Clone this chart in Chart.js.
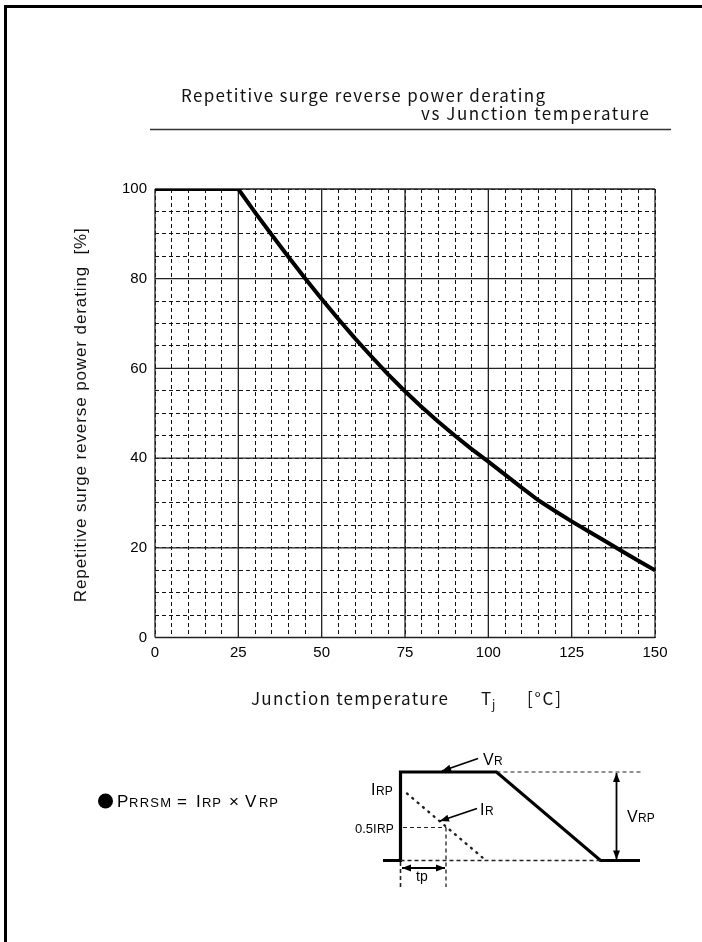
<!DOCTYPE html>
<html>
<head>
<meta charset="utf-8">
<title>Repetitive surge reverse power derating</title>
<script src="https://cdn.jsdelivr.net/npm/chart.js@4.4.1/dist/chart.umd.min.js"></script>
<style>
    html, body { margin: 0; padding: 0; background: #fff; }
    #wrap { width: 702px; height: 942px; }
</style>
</head>
<body>
<div id="wrap"><canvas id="deratingChart" width="702" height="942"></canvas></div>
<script>
// ==========================
// DATA
// ==========================
const tempC = [0, 25, 30, 35, 40, 45, 50, 55, 60, 65, 70, 75, 80, 85, 90, 95, 100,
               105, 110, 115, 120, 125, 130, 135, 140, 145, 150];
const deratingPct = [100, 100, 94.8, 89.8, 84.9, 80.1, 75.5, 71.0, 66.7, 62.6, 58.6, 54.9, 51.4, 48.1, 45.0, 42.0, 39.2,
                     36.3, 33.4, 30.6, 28.2, 25.9, 23.7, 21.5, 19.3, 17.1, 15.0];
const xTickValues = [0, 25, 50, 75, 100, 125, 150];
const yTickValues = [0, 20, 40, 60, 80, 100];

const SANS = "'Liberation Sans', Arial, sans-serif";
const GOTHIC = "'Noto Sans CJK JP', 'Noto Sans', sans-serif";

// ==========================
// TEXT HELPERS
// ==========================
// draw left-aligned text stretched with letter spacing to a given width
function spacedText(ctx, str, x, y, width) {
    ctx.letterSpacing = "0px";
    const raw = ctx.measureText(str).width;
    if (width && str.length > 1) {
        ctx.letterSpacing = ((width - raw) / (str.length - 1)) + "px";
    }
    ctx.fillText(str, x, y);
    ctx.letterSpacing = "0px";
}

function label(ctx, str, x, y, size, width, family) {
    ctx.font = size + "px " + (family || SANS);
    spacedText(ctx, str, x, y, width);
}

function arrowHead(ctx, x1, y1, x2, y2, len, half) {
    const a = Math.atan2(y2 - y1, x2 - x1);
    ctx.beginPath();
    ctx.moveTo(x2, y2);
    ctx.lineTo(x2 - len * Math.cos(a) + half * Math.sin(a), y2 - len * Math.sin(a) - half * Math.cos(a));
    ctx.lineTo(x2 - len * Math.cos(a) - half * Math.sin(a), y2 - len * Math.sin(a) + half * Math.cos(a));
    ctx.closePath();
    ctx.fill();
}

function arrow(ctx, x1, y1, x2, y2, both) {
    ctx.setLineDash([]);
    ctx.lineWidth = 1.8;
    ctx.beginPath();
    ctx.moveTo(x1, y1);
    ctx.lineTo(x2, y2);
    ctx.stroke();
    arrowHead(ctx, x1, y1, x2, y2, 9, 3.5);
    if (both) arrowHead(ctx, x2, y2, x1, y1, 9, 3.5);
}

function seg(ctx, pts, width, dash) {
    ctx.lineWidth = width;
    ctx.setLineDash(dash || []);
    ctx.beginPath();
    ctx.moveTo(pts[0][0], pts[0][1]);
    for (let i = 1; i < pts.length; i++) ctx.lineTo(pts[i][0], pts[i][1]);
    ctx.stroke();
}

// ==========================
// PLUGINS
// ==========================
// solid lines at the labelled ticks, drawn over the dashed minor grid
const majorGrid = {
    id: "majorGrid",
    beforeDatasetsDraw(chart) {
        const { ctx, chartArea: a, scales: { x, y } } = chart;
        ctx.save();
        ctx.strokeStyle = "#222";
        ctx.lineWidth = 1.3;
        ctx.beginPath();
        xTickValues.forEach(v => {
            const px = x.getPixelForValue(v);
            ctx.moveTo(px, a.top);
            ctx.lineTo(px, a.bottom);
        });
        yTickValues.forEach(v => {
            const py = y.getPixelForValue(v);
            ctx.moveTo(a.left, py);
            ctx.lineTo(a.right, py);
        });
        ctx.stroke();
        ctx.restore();
    }
};

// sheet frame, titles, formula and the waveform sketch
const sheetDecor = {
    id: "sheetDecor",
    afterDraw(chart) {
        const ctx = chart.ctx;
        const y = chart.scales.y;
        ctx.save();
        ctx.textBaseline = "alphabetic";
        ctx.textAlign = "left";

        // page frame (top + left)
        ctx.strokeStyle = "#000";
        ctx.lineWidth = 3;
        ctx.beginPath();
        ctx.moveTo(5.5, 942);
        ctx.lineTo(5.5, 6.5);
        ctx.lineTo(702, 6.5);
        ctx.stroke();

        // title
        ctx.fillStyle = "#111";
        label(ctx, "Repetitive surge reverse power derating", 181, 102, 17, 364, GOTHIC);
        label(ctx, "vs Junction temperature", 421, 120, 17, 228, GOTHIC);
        ctx.strokeStyle = "#333";
        ctx.lineWidth = 1.5;
        ctx.beginPath();
        ctx.moveTo(150, 129.5);
        ctx.lineTo(671, 129.5);
        ctx.stroke();

        // y axis title, rotated, centred on the plot height
        ctx.save();
        ctx.translate(86, (y.top + y.bottom) / 2 + 2);
        ctx.rotate(-Math.PI / 2);
        ctx.fillStyle = "#111";
        label(ctx, "Repetitive surge reverse power derating  [%]", -187, 0, 17, 374);
        ctx.restore();

        // x axis title
        ctx.fillStyle = "#111";
        label(ctx, "Junction temperature", 251, 705, 17, 197, GOTHIC);
        label(ctx, "T", 481, 705, 17, 0, GOTHIC);
        label(ctx, "j", 492, 709, 12, 0, GOTHIC);
        label(ctx, "[°C]", 527, 705, 17, 34, GOTHIC);

        // formula
        ctx.fillStyle = "#000";
        ctx.beginPath();
        ctx.arc(105.5, 801, 7.5, 0, Math.PI * 2);
        ctx.fill();
        label(ctx, "P", 117, 807, 17);
        label(ctx, "RRSM", 129, 807, 13, 42);
        label(ctx, "=", 177, 807, 17);
        label(ctx, "I", 196, 807, 17);
        label(ctx, "RP", 202, 807, 13, 19);
        label(ctx, "\u00d7", 229, 807, 17);
        label(ctx, "V", 245, 807, 17);
        label(ctx, "RP", 259, 807, 13, 19);

        // waveform sketch
        ctx.strokeStyle = "#000";
        ctx.lineCap = "butt";
        ctx.lineJoin = "miter";
        seg(ctx, [[383, 860.5], [400.5, 860.5], [400.5, 772], [496.5, 772], [600.5, 860.5], [640, 860.5]], 3.2);
        ctx.strokeStyle = "#222";
        seg(ctx, [[496.5, 772], [642, 772]], 1.1, [4, 3]);
        seg(ctx, [[400.5, 860.5], [600.5, 860.5]], 1.3, [4, 3]);
        seg(ctx, [[403, 827.5], [446, 827.5]], 1.1, [4, 3]);
        seg(ctx, [[446, 827.5], [446, 887]], 1.3, [4, 3]);
        seg(ctx, [[400.5, 862], [400.5, 887]], 1.6, [4, 3]);
        ctx.lineCap = "round";
        seg(ctx, [[407, 793.5], [483, 858]], 2.4, [1, 6]);
        ctx.lineCap = "butt";

        ctx.fillStyle = "#000";
        ctx.strokeStyle = "#000";
        arrow(ctx, 616.5, 773, 616.5, 859.5, true);
        arrow(ctx, 402, 868, 445, 868, true);
        arrow(ctx, 478, 758.5, 442, 771);
        arrow(ctx, 477, 808.5, 440, 821);

        label(ctx, "V", 483, 765, 16);
        label(ctx, "R", 494, 765, 12);
        label(ctx, "I", 371, 795, 16);
        label(ctx, "RP", 376, 795, 12);
        label(ctx, "0.5I", 355, 832.5, 13);
        label(ctx, "RP", 377, 832.5, 12);
        label(ctx, "I", 480, 815, 16);
        label(ctx, "R", 485, 815, 12);
        label(ctx, "V", 627, 822, 16);
        label(ctx, "RP", 638, 822, 12);
        label(ctx, "tp", 416, 881, 14);

        ctx.restore();
    }
};

// ==========================
// CHART
// ==========================
const canvas = document.getElementById("deratingChart");

new Chart(canvas, {
    type: "line",
    data: {
        datasets: [{
            data: tempC.map((t, i) => ({ x: t, y: deratingPct[i] })),
            borderColor: "#000",
            borderWidth: 4,
            pointRadius: 0,
            tension: 0,
            borderJoinStyle: "round",
            fill: false
        }]
    },
    options: {
        responsive: false,
        animation: false,
        layout: { padding: { left: 0, right: 47, top: 189, bottom: 0 } },
        plugins: {
            legend: { display: false },
            tooltip: { enabled: false },
            title: { display: false }
        },
        scales: {
            x: {
                type: "linear",
                min: 0,
                max: 150,
                afterFit: s => { s.height = 942 - 637.5; },
                grid: { color: "#111", lineWidth: 1, drawTicks: false },
                border: { display: false, dash: [4, 3] },
                ticks: {
                    stepSize: 5,
                    autoSkip: false,
                    maxRotation: 0,
                    padding: 6,
                    color: "#000",
                    font: { family: SANS, size: 15 },
                    callback: v => xTickValues.includes(v) ? v : ""
                }
            },
            y: {
                type: "linear",
                min: 0,
                max: 100,
                afterFit: s => { s.width = 155; },
                grid: { color: "#111", lineWidth: 1, drawTicks: false },
                border: { display: false, dash: [4, 3] },
                ticks: {
                    stepSize: 5,
                    autoSkip: false,
                    padding: 8,
                    color: "#000",
                    font: { family: SANS, size: 15 },
                    callback: v => yTickValues.includes(v) ? v : ""
                }
            }
        }
    },
    plugins: [majorGrid, sheetDecor]
});
</script>
</body>
</html>
